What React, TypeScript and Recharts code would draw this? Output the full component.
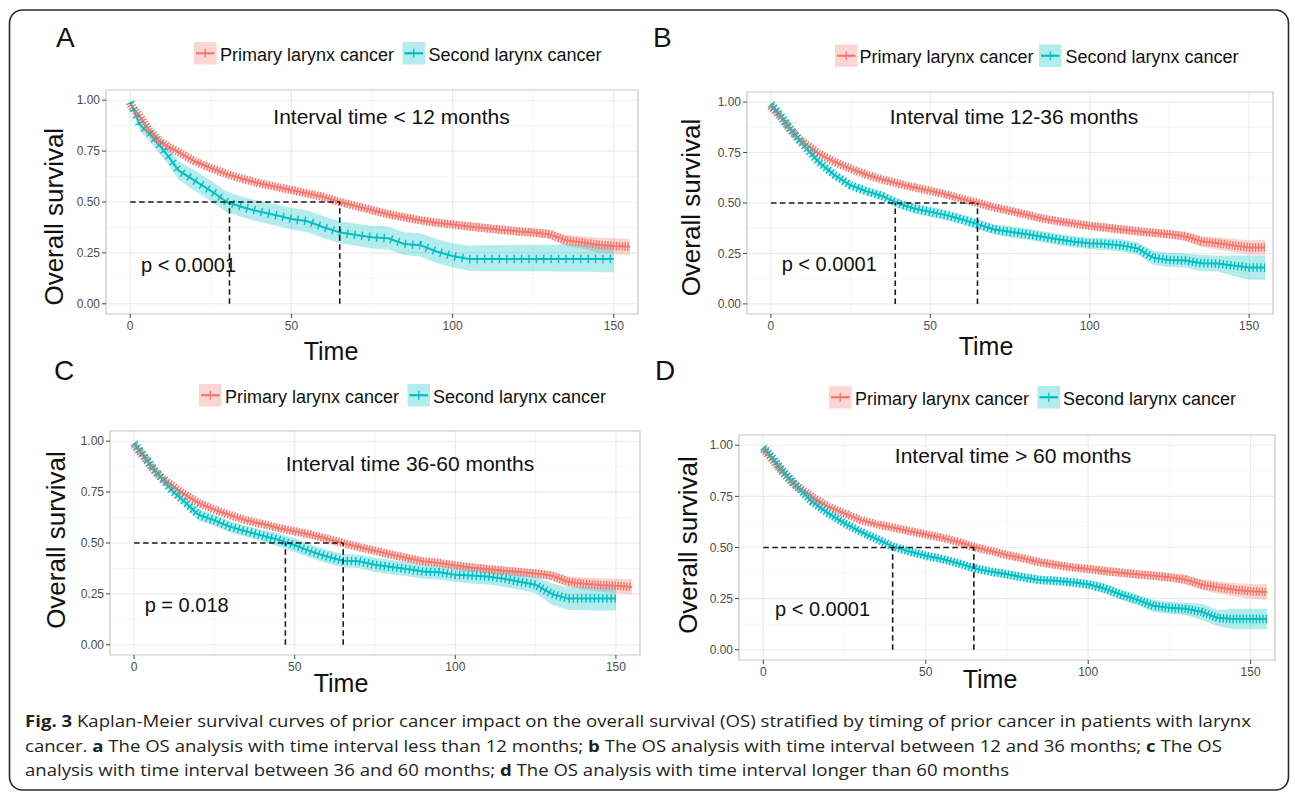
import React from "react";
import {
  ComposedChart,
  Line,
  Area,
  XAxis,
  YAxis,
  CartesianGrid,
  ReferenceLine,
  ReferenceArea,
} from "recharts";

// ---------------- data ----------------
const timeGrid = [0, 3, 6, 9, 12, 15, 20, 25, 30, 35, 40, 45, 50, 55, 60, 65, 70, 75, 80, 85, 90, 95, 100, 105, 110, 115, 120, 125, 130, 135, 140, 145, 150, 155];

const xTicks = [0, 50, 100, 150];
const yTicks = [0, 0.25, 0.5, 0.75, 1];
const xMinor = [25, 75, 125];
const yMinor = [0.125, 0.375, 0.625, 0.875];

const seriesNames = ["Primary larynx cancer", "Second larynx cancer"];
const panelLetters = ["A", "B", "C", "D"];
const panelTitles = ["Interval time < 12 months", "Interval time 12-36 months", "Interval time 36-60 months", "Interval time > 60 months"];
const pValues = ["p < 0.0001", "p < 0.0001", "p = 0.018", "p < 0.0001"];
const medianPrimary = [65, 64.8, 65.1, 64.8];
const medianSecond = [30.8, 39, 47.1, 39.8];

// Panel A
const primaryA = [0.98, 0.92, 0.85, 0.8, 0.77, 0.745, 0.7, 0.667, 0.637, 0.613, 0.592, 0.575, 0.559, 0.542, 0.525, 0.5, 0.48, 0.46, 0.44, 0.425, 0.41, 0.398, 0.39, 0.38, 0.372, 0.364, 0.356, 0.35, 0.342, 0.312, 0.302, 0.29, 0.284, 0.28];
const primaryLoA = [0.97, 0.908, 0.838, 0.788, 0.758, 0.733, 0.687, 0.654, 0.624, 0.6, 0.579, 0.56, 0.544, 0.527, 0.51, 0.485, 0.465, 0.443, 0.423, 0.408, 0.393, 0.381, 0.373, 0.36, 0.352, 0.344, 0.336, 0.33, 0.319, 0.285, 0.272, 0.252, 0.245, 0.24];
const primaryHiA = [0.99, 0.932, 0.862, 0.812, 0.782, 0.757, 0.713, 0.68, 0.65, 0.626, 0.605, 0.59, 0.574, 0.557, 0.54, 0.515, 0.495, 0.477, 0.457, 0.442, 0.427, 0.415, 0.407, 0.4, 0.392, 0.384, 0.376, 0.37, 0.365, 0.339, 0.332, 0.325, 0.322, 0.32];
const secondA = [0.99, 0.88, 0.835, 0.78, 0.72, 0.655, 0.605, 0.555, 0.5, 0.474, 0.453, 0.436, 0.417, 0.405, 0.376, 0.351, 0.338, 0.327, 0.322, 0.294, 0.288, 0.257, 0.235, 0.22, 0.22, 0.22, 0.22, 0.22, 0.22, 0.22, 0.22, 0.22, 0.22, null];
const secondLoA = [0.98, 0.85, 0.8, 0.74, 0.68, 0.61, 0.555, 0.505, 0.45, 0.425, 0.403, 0.385, 0.365, 0.352, 0.323, 0.298, 0.285, 0.272, 0.267, 0.24, 0.232, 0.2, 0.178, 0.162, 0.16, 0.16, 0.16, 0.16, 0.16, 0.158, 0.158, 0.156, 0.155, null];
const secondHiA = [1.0, 0.91, 0.87, 0.82, 0.765, 0.7, 0.655, 0.605, 0.55, 0.525, 0.505, 0.49, 0.47, 0.46, 0.43, 0.405, 0.393, 0.383, 0.38, 0.352, 0.347, 0.318, 0.298, 0.285, 0.288, 0.288, 0.29, 0.29, 0.29, 0.292, 0.292, 0.294, 0.295, null];

// Panel B
const primaryB = [0.98, 0.925, 0.865, 0.815, 0.78, 0.745, 0.703, 0.67, 0.64, 0.616, 0.596, 0.577, 0.56, 0.542, 0.52, 0.5, 0.478, 0.461, 0.443, 0.423, 0.41, 0.398, 0.387, 0.378, 0.369, 0.36, 0.352, 0.345, 0.335, 0.31, 0.3, 0.29, 0.28, 0.28];
const primaryLoB = [0.97, 0.913, 0.853, 0.803, 0.768, 0.733, 0.69, 0.657, 0.627, 0.603, 0.583, 0.562, 0.545, 0.527, 0.505, 0.485, 0.463, 0.444, 0.426, 0.406, 0.393, 0.381, 0.37, 0.358, 0.349, 0.34, 0.332, 0.325, 0.312, 0.283, 0.27, 0.257, 0.244, 0.242];
const primaryHiB = [0.99, 0.937, 0.877, 0.827, 0.792, 0.757, 0.716, 0.683, 0.653, 0.629, 0.609, 0.592, 0.575, 0.557, 0.535, 0.515, 0.493, 0.478, 0.46, 0.44, 0.427, 0.415, 0.404, 0.398, 0.389, 0.38, 0.372, 0.365, 0.358, 0.337, 0.33, 0.323, 0.316, 0.318];
const secondB = [0.99, 0.935, 0.87, 0.81, 0.755, 0.703, 0.638, 0.588, 0.558, 0.534, 0.497, 0.473, 0.456, 0.44, 0.418, 0.394, 0.369, 0.357, 0.346, 0.333, 0.32, 0.308, 0.3, 0.297, 0.29, 0.275, 0.228, 0.218, 0.215, 0.202, 0.2, 0.19, 0.18, 0.18];
const secondLoB = [0.975, 0.92, 0.855, 0.795, 0.74, 0.688, 0.618, 0.568, 0.538, 0.514, 0.477, 0.448, 0.431, 0.415, 0.393, 0.369, 0.344, 0.329, 0.318, 0.305, 0.292, 0.28, 0.272, 0.267, 0.26, 0.245, 0.193, 0.183, 0.18, 0.162, 0.16, 0.14, 0.12, 0.12];
const secondHiB = [1.0, 0.95, 0.885, 0.825, 0.77, 0.718, 0.658, 0.608, 0.578, 0.554, 0.517, 0.498, 0.481, 0.465, 0.443, 0.419, 0.394, 0.385, 0.374, 0.361, 0.348, 0.336, 0.328, 0.327, 0.32, 0.305, 0.263, 0.253, 0.25, 0.242, 0.24, 0.24, 0.24, 0.24];

// Panel C
const primaryC = [0.98, 0.925, 0.86, 0.815, 0.78, 0.746, 0.697, 0.664, 0.636, 0.611, 0.593, 0.574, 0.557, 0.541, 0.521, 0.5, 0.48, 0.462, 0.443, 0.426, 0.41, 0.402, 0.39, 0.38, 0.372, 0.364, 0.357, 0.35, 0.34, 0.31, 0.3, 0.294, 0.29, 0.284];
const primaryLoC = [0.97, 0.913, 0.848, 0.803, 0.768, 0.734, 0.684, 0.651, 0.623, 0.598, 0.58, 0.559, 0.542, 0.526, 0.506, 0.485, 0.465, 0.445, 0.426, 0.409, 0.393, 0.385, 0.373, 0.36, 0.352, 0.344, 0.337, 0.33, 0.317, 0.283, 0.27, 0.261, 0.254, 0.246];
const primaryHiC = [0.99, 0.937, 0.872, 0.827, 0.792, 0.758, 0.71, 0.677, 0.649, 0.624, 0.606, 0.589, 0.572, 0.556, 0.536, 0.515, 0.495, 0.479, 0.46, 0.443, 0.427, 0.419, 0.407, 0.4, 0.392, 0.384, 0.377, 0.37, 0.363, 0.337, 0.33, 0.327, 0.326, 0.322];
const secondC = [0.99, 0.93, 0.865, 0.81, 0.754, 0.713, 0.639, 0.611, 0.579, 0.557, 0.536, 0.516, 0.489, 0.459, 0.434, 0.413, 0.41, 0.393, 0.382, 0.372, 0.36, 0.356, 0.344, 0.341, 0.336, 0.325, 0.31, 0.295, 0.25, 0.227, 0.227, 0.227, 0.227, null];
const secondLoC = [0.975, 0.91, 0.845, 0.79, 0.734, 0.693, 0.611, 0.583, 0.551, 0.529, 0.508, 0.483, 0.456, 0.426, 0.401, 0.38, 0.377, 0.358, 0.347, 0.337, 0.325, 0.321, 0.309, 0.301, 0.296, 0.285, 0.27, 0.255, 0.198, 0.172, 0.17, 0.168, 0.168, null];
const secondHiC = [1.0, 0.95, 0.885, 0.83, 0.774, 0.733, 0.667, 0.639, 0.607, 0.585, 0.564, 0.549, 0.522, 0.492, 0.467, 0.446, 0.443, 0.428, 0.417, 0.407, 0.395, 0.391, 0.379, 0.381, 0.376, 0.365, 0.35, 0.335, 0.302, 0.282, 0.285, 0.286, 0.288, null];

// Panel D
const primaryD = [0.98, 0.925, 0.865, 0.815, 0.782, 0.748, 0.699, 0.667, 0.634, 0.613, 0.597, 0.58, 0.564, 0.548, 0.528, 0.502, 0.483, 0.463, 0.447, 0.428, 0.415, 0.403, 0.395, 0.385, 0.377, 0.369, 0.362, 0.354, 0.343, 0.318, 0.305, 0.294, 0.286, 0.282];
const primaryLoD = [0.97, 0.913, 0.853, 0.803, 0.77, 0.736, 0.686, 0.654, 0.621, 0.6, 0.584, 0.565, 0.549, 0.533, 0.513, 0.487, 0.468, 0.446, 0.43, 0.411, 0.398, 0.386, 0.378, 0.365, 0.357, 0.349, 0.342, 0.334, 0.32, 0.291, 0.275, 0.261, 0.25, 0.244];
const primaryHiD = [0.99, 0.937, 0.877, 0.827, 0.794, 0.76, 0.712, 0.68, 0.647, 0.626, 0.61, 0.595, 0.579, 0.563, 0.543, 0.517, 0.498, 0.48, 0.464, 0.445, 0.432, 0.42, 0.412, 0.405, 0.397, 0.389, 0.382, 0.374, 0.366, 0.345, 0.335, 0.327, 0.322, 0.32];
const secondD = [0.99, 0.935, 0.875, 0.82, 0.772, 0.724, 0.667, 0.618, 0.577, 0.541, 0.504, 0.48, 0.46, 0.444, 0.423, 0.398, 0.382, 0.369, 0.354, 0.341, 0.337, 0.33, 0.32, 0.3, 0.27, 0.245, 0.215, 0.205, 0.2, 0.185, 0.155, 0.15, 0.15, 0.15];
const secondLoD = [0.978, 0.923, 0.863, 0.808, 0.76, 0.712, 0.652, 0.603, 0.562, 0.526, 0.489, 0.462, 0.442, 0.426, 0.405, 0.38, 0.364, 0.349, 0.334, 0.321, 0.317, 0.31, 0.3, 0.275, 0.245, 0.22, 0.185, 0.175, 0.17, 0.145, 0.115, 0.1, 0.1, 0.1];
const secondHiD = [1.0, 0.947, 0.887, 0.832, 0.784, 0.736, 0.682, 0.633, 0.592, 0.556, 0.519, 0.498, 0.478, 0.462, 0.441, 0.416, 0.4, 0.389, 0.374, 0.361, 0.357, 0.35, 0.34, 0.325, 0.295, 0.27, 0.245, 0.235, 0.23, 0.225, 0.195, 0.2, 0.2, 0.2];

// ---------------- styling / layout ----------------
const RED = "#F8766D";
const TEAL = "#00BFC4";
const FONT = "'Liberation Sans', Arial, Helvetica, sans-serif";
const Y_W = 45;
const X_H = 30;
const M_TOP = 5;
const M_RIGHT = 5;

type Box = { l: number; t: number; r: number; b: number };

const plotBoxes: Box[] = [
  { l: 106, t: 90, r: 638, b: 314 },
  { l: 747, t: 92, r: 1273, b: 314 },
  { l: 110, t: 431, r: 640, b: 655 },
  { l: 739, t: 435, r: 1275, b: 660 },
];
const primaryDash = "1.4 1.5";
const secondDash = ["1.4 6", "1.4 2.4", "1.4 2.8", "1.4 1.9"];

const letterPos = [
  { x: 56, y: 47 },
  { x: 653, y: 47 },
  { x: 54, y: 380 },
  { x: 655, y: 380 },
];
const legendPos = [
  { x1: 194, t1: 220, x2: 402.5, t2: 428.5, y: 60.5 },
  { x1: 835, t1: 859.5, x2: 1039, t2: 1065.5, y: 63 },
  { x1: 199, t1: 225, x2: 407.5, t2: 433, y: 402.5 },
  { x1: 829, t1: 855, x2: 1037.5, t2: 1063, y: 404.5 },
];
const titlePos = [
  { x: 391.5, y: 124 },
  { x: 1014, y: 124.3 },
  { x: 410, y: 470.7 },
  { x: 1013, y: 462.7 },
];
const pPos = [
  { x: 141, y: 271.7 },
  { x: 781.7, y: 271 },
  { x: 144.7, y: 611.7 },
  { x: 775, y: 616.3 },
];
const timePos = [
  { x: 331, y: 360 },
  { x: 986, y: 355 },
  { x: 341, y: 691.7 },
  { x: 990, y: 688 },
];
const survPos = [
  { x: 54, y: 216.7 },
  { x: 690.5, y: 207.5 },
  { x: 55.6, y: 540 },
  { x: 687.5, y: 545 },
];

type Row = { t: number; p: number | null; pBand: number[] | null; s: number | null; sBand: number[] | null };

function buildRows(
  p: (number | null)[],
  pLo: (number | null)[],
  pHi: (number | null)[],
  s: (number | null)[],
  sLo: (number | null)[],
  sHi: (number | null)[]
): Row[] {
  return timeGrid.map((t, i) => ({
    t,
    p: p[i],
    pBand: p[i] == null ? null : [pLo[i] as number, pHi[i] as number],
    s: s[i],
    sBand: s[i] == null ? null : [sLo[i] as number, sHi[i] as number],
  }));
}

const panelRows: Row[][] = [
  buildRows(primaryA, primaryLoA, primaryHiA, secondA, secondLoA, secondHiA),
  buildRows(primaryB, primaryLoB, primaryHiB, secondB, secondLoB, secondHiB),
  buildRows(primaryC, primaryLoC, primaryHiC, secondC, secondLoC, secondHiC),
  buildRows(primaryD, primaryLoD, primaryHiD, secondD, secondLoD, secondHiD),
];

const dashed = { stroke: "#1a1a1a", strokeWidth: 1.6, strokeDasharray: "5.5 3.5" };

function KMPanel({ idx }: { idx: number }) {
  const box = plotBoxes[idx];
  const rows = panelRows[idx];
  const w = box.r - box.l + Y_W + M_RIGHT;
  const h = box.b - box.t + M_TOP + X_H;
  const medP = medianPrimary[idx];
  const medS = medianSecond[idx];
  return (
    <div style={{ position: "absolute", left: box.l - Y_W, top: box.t - M_TOP, fontFamily: FONT }}>
      <ComposedChart width={w} height={h} data={rows} margin={{ top: M_TOP, right: M_RIGHT, bottom: 0, left: 0 }}>
        <CartesianGrid verticalValues={xMinor} horizontalValues={yMinor} stroke="#F3F3F3" strokeWidth={0.7} />
        <CartesianGrid verticalValues={xTicks} horizontalValues={yTicks} stroke="#EBEBEB" strokeWidth={1.1} />
        <XAxis
          type="number"
          dataKey="t"
          domain={[-7.5, 157.5]}
          ticks={xTicks}
          interval={0}
          allowDataOverflow
          axisLine={false}
          tickLine={{ stroke: "#333333", strokeWidth: 0.9 }}
          tickSize={4}
          tickMargin={3}
          height={X_H}
          tick={{ fontSize: 12, fill: "#4D4D4D", fontFamily: FONT }}
        />
        <YAxis
          type="number"
          domain={[-0.05, 1.05]}
          ticks={yTicks}
          interval={0}
          allowDataOverflow
          axisLine={false}
          tickLine={{ stroke: "#333333", strokeWidth: 0.9 }}
          tickSize={4}
          tickMargin={2}
          width={Y_W}
          tickFormatter={(v: number) => v.toFixed(2)}
          tick={{ fontSize: 12, fill: "#4D4D4D", fontFamily: FONT }}
        />
        <Area dataKey="pBand" type="linear" stroke="none" fill={RED} fillOpacity={0.3} isAnimationActive={false} />
        <Area dataKey="sBand" type="linear" stroke="none" fill={TEAL} fillOpacity={0.3} isAnimationActive={false} />
        <Line dataKey="p" type="linear" stroke={RED} strokeWidth={2} dot={false} activeDot={false} isAnimationActive={false} />
        <Line dataKey="s" type="linear" stroke={TEAL} strokeWidth={2} dot={false} activeDot={false} isAnimationActive={false} />
        <Line dataKey="p" type="linear" stroke={RED} strokeWidth={8.5} strokeDasharray={primaryDash} dot={false} activeDot={false} isAnimationActive={false} />
        <Line dataKey="s" type="linear" stroke={TEAL} strokeWidth={8.5} strokeDasharray={secondDash[idx]} dot={false} activeDot={false} isAnimationActive={false} />
        <ReferenceLine segment={[{ x: 0, y: 0.5 }, { x: medP, y: 0.5 }]} {...dashed} />
        <ReferenceLine segment={[{ x: medS, y: 0 }, { x: medS, y: 0.5 }]} {...dashed} />
        <ReferenceLine segment={[{ x: medP, y: 0 }, { x: medP, y: 0.5 }]} {...dashed} />
        <ReferenceArea x1={-7.5} x2={157.5} y1={-0.05} y2={1.05} fill="none" stroke="#C6C6C6" strokeWidth={1.2} ifOverflow="visible" />
      </ComposedChart>
    </div>
  );
}

function LegendKey({ x, y, color }: { x: number; y: number; color: string }) {
  const s = 22.5;
  return (
    <g>
      <rect x={x} y={y} width={s} height={s} fill={color} fillOpacity={0.3} />
      <line x1={x + 2} x2={x + s - 2} y1={y + s / 2} y2={y + s / 2} stroke={color} strokeWidth={2.2} />
      <line x1={x + s / 2} x2={x + s / 2} y1={y + s / 2 - 4.5} y2={y + s / 2 + 4.5} stroke={color} strokeWidth={1.3} />
    </g>
  );
}

const CAP_FONT = "'Open Sans', 'Noto Sans', sans-serif";

export default function App() {
  return (
    <div style={{ position: "absolute", left: 0, top: 0, width: 1295, height: 795, background: "#ffffff", overflow: "hidden" }}>
      {[0, 1, 2, 3].map((i) => (
        <KMPanel key={i} idx={i} />
      ))}
      <svg width={1295} height={795} style={{ position: "absolute", left: 0, top: 0, pointerEvents: "none" }}>
        <rect x={9.5} y={10} width={1279} height={780} rx={13} ry={13} fill="none" stroke="#2a2a2a" strokeWidth={1.6} />
        {[0, 1, 2, 3].map((i) => (
          <g key={i} fontFamily={FONT} fill="#111111">
            <text x={letterPos[i].x} y={letterPos[i].y} fontSize={28}>
              {panelLetters[i]}
            </text>
            <LegendKey x={legendPos[i].x1} y={legendPos[i].y - 18.5} color={RED} />
            <text x={legendPos[i].t1} y={legendPos[i].y} fontSize={18}>
              {seriesNames[0]}
            </text>
            <LegendKey x={legendPos[i].x2} y={legendPos[i].y - 18.5} color={TEAL} />
            <text x={legendPos[i].t2} y={legendPos[i].y} fontSize={18}>
              {seriesNames[1]}
            </text>
            <text x={titlePos[i].x} y={titlePos[i].y} fontSize={21} textAnchor="middle">
              {panelTitles[i]}
            </text>
            <text x={pPos[i].x} y={pPos[i].y} fontSize={20}>
              {pValues[i]}
            </text>
            <text x={timePos[i].x} y={timePos[i].y} fontSize={25} textAnchor="middle">
              Time
            </text>
            <text transform={`translate(${survPos[i].x},${survPos[i].y}) rotate(-90)`} fontSize={26} textAnchor="middle" dy="0.36em">
              Overall survival
            </text>
          </g>
        ))}
        <g fontFamily={CAP_FONT} fontSize={15.5} fill="#231F20">
          <text x={25} y={726.7} textLength={1226} lengthAdjust="spacingAndGlyphs">
            <tspan fontWeight={700}>Fig. 3</tspan>
            <tspan> Kaplan-Meier survival curves of prior cancer impact on the overall survival (OS) stratified by timing of prior cancer in patients with larynx</tspan>
          </text>
          <text x={25} y={751.7} textLength={1197} lengthAdjust="spacingAndGlyphs">
            <tspan>cancer. </tspan>
            <tspan fontWeight={700}>a</tspan>
            <tspan> The OS analysis with time interval less than 12 months; </tspan>
            <tspan fontWeight={700}>b</tspan>
            <tspan> The OS analysis with time interval between 12 and 36 months; </tspan>
            <tspan fontWeight={700}>c</tspan>
            <tspan> The OS</tspan>
          </text>
          <text x={25} y={776} textLength={984} lengthAdjust="spacingAndGlyphs">
            <tspan>analysis with time interval between 36 and 60 months; </tspan>
            <tspan fontWeight={700}>d</tspan>
            <tspan> The OS analysis with time interval longer than 60 months</tspan>
          </text>
        </g>
      </svg>
    </div>
  );
}
